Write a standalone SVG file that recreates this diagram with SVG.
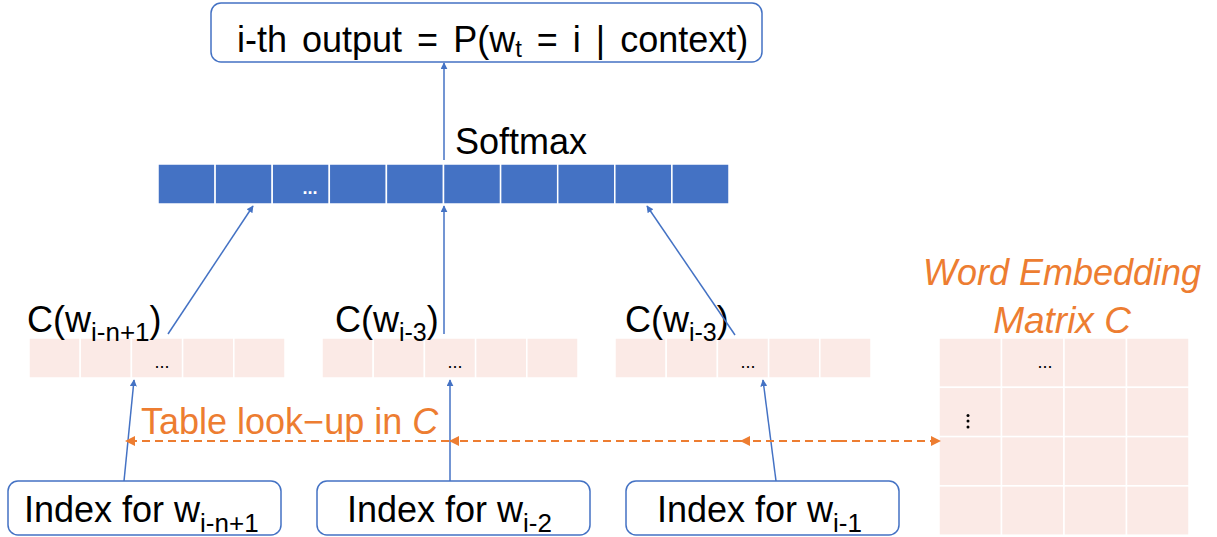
<svg xmlns="http://www.w3.org/2000/svg" width="1217" height="537" viewBox="0 0 1217 537">
<style>
.box{fill:#fff;stroke:#4472C4;stroke-width:1.5}
.t{font-family:"Liberation Sans",Arial,sans-serif;fill:#000}
.o{font-family:"Liberation Sans",Arial,sans-serif;fill:#ED7D31}
.sm{fill:#4472C4;stroke:#fff;stroke-width:1.5}
.pk{fill:#FBEAE6;stroke:#fff;stroke-width:1.5}
.bl{stroke:#4472C4;stroke-width:1.5;fill:none}
.dash{stroke:#ED7D31;stroke-width:2;stroke-dasharray:8,5;fill:none}
</style>
<defs>
<marker id="ab" viewBox="0 0 10 10" refX="9" refY="5" markerWidth="7" markerHeight="7" orient="auto" markerUnits="userSpaceOnUse"><path d="M0,0 L10,5 L0,10 z" fill="#4472C4"/></marker>
<marker id="ao" viewBox="0 0 10 10" refX="9" refY="5" markerWidth="10" markerHeight="10" orient="auto" markerUnits="userSpaceOnUse"><path d="M0,0 L10,5 L0,10 z" fill="#ED7D31"/></marker>
</defs>

<g id="output">
<rect class="box" x="211" y="3" width="551" height="59" rx="10"/>
<text class="t" x="237" y="52" font-size="36" word-spacing="5">i-th output = P(w<tspan font-size="24" dy="5">t</tspan><tspan dy="-5"> = i | context)</tspan></text>
</g>

<g id="softmax">
<rect class="sm" x="158" y="164" width="57.1" height="40"/>
<rect class="sm" x="215.1" y="164" width="57.1" height="40"/>
<rect class="sm" x="272.2" y="164" width="57.1" height="40"/>
<rect class="sm" x="329.3" y="164" width="57.1" height="40"/>
<rect class="sm" x="386.4" y="164" width="57.1" height="40"/>
<rect class="sm" x="443.5" y="164" width="57.1" height="40"/>
<rect class="sm" x="500.6" y="164" width="57.1" height="40"/>
<rect class="sm" x="557.7" y="164" width="57.1" height="40"/>
<rect class="sm" x="614.8" y="164" width="57.1" height="40"/>
<rect class="sm" x="671.9" y="164" width="57.1" height="40"/>
<text x="310" y="194" font-family="'Liberation Sans',Arial,sans-serif" font-size="18" font-weight="bold" fill="#fff" text-anchor="middle">...</text>
<text class="t" x="455" y="154" font-size="36">Softmax</text>
</g>

<g id="emb1">
<rect class="pk" x="29" y="338" width="51.2" height="40"/>
<rect class="pk" x="80.2" y="338" width="51.2" height="40"/>
<rect class="pk" x="131.4" y="338" width="51.2" height="40"/>
<rect class="pk" x="182.6" y="338" width="51.2" height="40"/>
<rect class="pk" x="233.8" y="338" width="51.2" height="40"/>
<text class="t" x="162" y="368" font-size="18" text-anchor="middle">...</text>
<text class="t" x="27" y="332" font-size="36">C(w<tspan font-size="26" dy="9">i-n+1</tspan><tspan dy="-9">)</tspan></text>
</g>

<g id="emb2">
<rect class="pk" x="322" y="338" width="51.2" height="40"/>
<rect class="pk" x="373.2" y="338" width="51.2" height="40"/>
<rect class="pk" x="424.4" y="338" width="51.2" height="40"/>
<rect class="pk" x="475.6" y="338" width="51.2" height="40"/>
<rect class="pk" x="526.8" y="338" width="51.2" height="40"/>
<text class="t" x="455" y="368" font-size="18" text-anchor="middle">...</text>
<text class="t" x="335" y="332" font-size="36">C(w<tspan font-size="25" dy="9">i-3</tspan><tspan dy="-9">)</tspan></text>
</g>

<g id="emb3">
<rect class="pk" x="615" y="338" width="51.2" height="40"/>
<rect class="pk" x="666.2" y="338" width="51.2" height="40"/>
<rect class="pk" x="717.4" y="338" width="51.2" height="40"/>
<rect class="pk" x="768.6" y="338" width="51.2" height="40"/>
<rect class="pk" x="819.8" y="338" width="51.2" height="40"/>
<text class="t" x="748" y="368" font-size="18" text-anchor="middle">...</text>
<text class="t" x="625" y="332" font-size="36">C(w<tspan font-size="25" dy="9">i-3</tspan><tspan dy="-9">)</tspan></text>
</g>

<g id="matrix">
<rect class="pk" x="939" y="338" width="62.5" height="49.3"/>
<rect class="pk" x="1001.5" y="338" width="62.5" height="49.3"/>
<rect class="pk" x="1064" y="338" width="62.5" height="49.3"/>
<rect class="pk" x="1126.5" y="338" width="62.5" height="49.3"/>
<rect class="pk" x="939" y="387.3" width="62.5" height="49.3"/>
<rect class="pk" x="1001.5" y="387.3" width="62.5" height="49.3"/>
<rect class="pk" x="1064" y="387.3" width="62.5" height="49.3"/>
<rect class="pk" x="1126.5" y="387.3" width="62.5" height="49.3"/>
<rect class="pk" x="939" y="436.6" width="62.5" height="49.3"/>
<rect class="pk" x="1001.5" y="436.6" width="62.5" height="49.3"/>
<rect class="pk" x="1064" y="436.6" width="62.5" height="49.3"/>
<rect class="pk" x="1126.5" y="436.6" width="62.5" height="49.3"/>
<rect class="pk" x="939" y="485.9" width="62.5" height="49.3"/>
<rect class="pk" x="1001.5" y="485.9" width="62.5" height="49.3"/>
<rect class="pk" x="1064" y="485.9" width="62.5" height="49.3"/>
<rect class="pk" x="1126.5" y="485.9" width="62.5" height="49.3"/>
<text class="t" x="1045" y="368" font-size="18" text-anchor="middle">...</text>
<circle cx="968" cy="415.5" r="1.5" fill="#000"/>
<circle cx="968" cy="421" r="1.5" fill="#000"/>
<circle cx="968" cy="427" r="1.5" fill="#000"/>
<text class="o" x="1062" y="285" font-size="36" font-style="italic" text-anchor="middle">Word Embedding</text>
<text class="o" x="1062" y="333" font-size="37" font-style="italic" text-anchor="middle">Matrix C</text>
</g>

<g id="idx1">
<rect class="box" x="8" y="481" width="273" height="54" rx="10"/>
<text class="t" x="24" y="522" font-size="36">Index for w<tspan font-size="26" dy="10">i-n+1</tspan></text>
</g>
<g id="idx2">
<rect class="box" x="317" y="481" width="273" height="54" rx="10"/>
<text class="t" x="347" y="522" font-size="36">Index for w<tspan font-size="26" dy="10">i-2</tspan></text>
</g>
<g id="idx3">
<rect class="box" x="626" y="481" width="273" height="54" rx="10"/>
<text class="t" x="657" y="522" font-size="36">Index for w<tspan font-size="26" dy="10">i-1</tspan></text>
</g>

<g id="connectors">
<line class="bl" x1="444" y1="160" x2="444" y2="63" marker-end="url(#ab)"/>
<line class="bl" x1="168" y1="334" x2="253" y2="206" marker-end="url(#ab)"/>
<line class="bl" x1="444" y1="334" x2="444" y2="206" marker-end="url(#ab)"/>
<line class="bl" x1="735" y1="335" x2="647" y2="206" marker-end="url(#ab)"/>
<line class="bl" x1="124" y1="481" x2="134" y2="380" marker-end="url(#ab)"/>
<line class="bl" x1="450" y1="481" x2="450" y2="380" marker-end="url(#ab)"/>
<line class="bl" x1="776" y1="481" x2="763" y2="380" marker-end="url(#ab)"/>
<line class="dash" x1="449" y1="441" x2="126" y2="441" marker-end="url(#ao)"/>
<line class="dash" x1="741" y1="441" x2="450" y2="441" marker-end="url(#ao)"/>
<line class="dash" x1="839" y1="441" x2="741" y2="441" marker-end="url(#ao)"/>
<line class="dash" x1="839" y1="441" x2="940" y2="441" marker-end="url(#ao)"/>
<text class="o" x="141" y="434" font-size="36">Table look−up in <tspan font-style="italic">C</tspan></text>
</g>
</svg>
